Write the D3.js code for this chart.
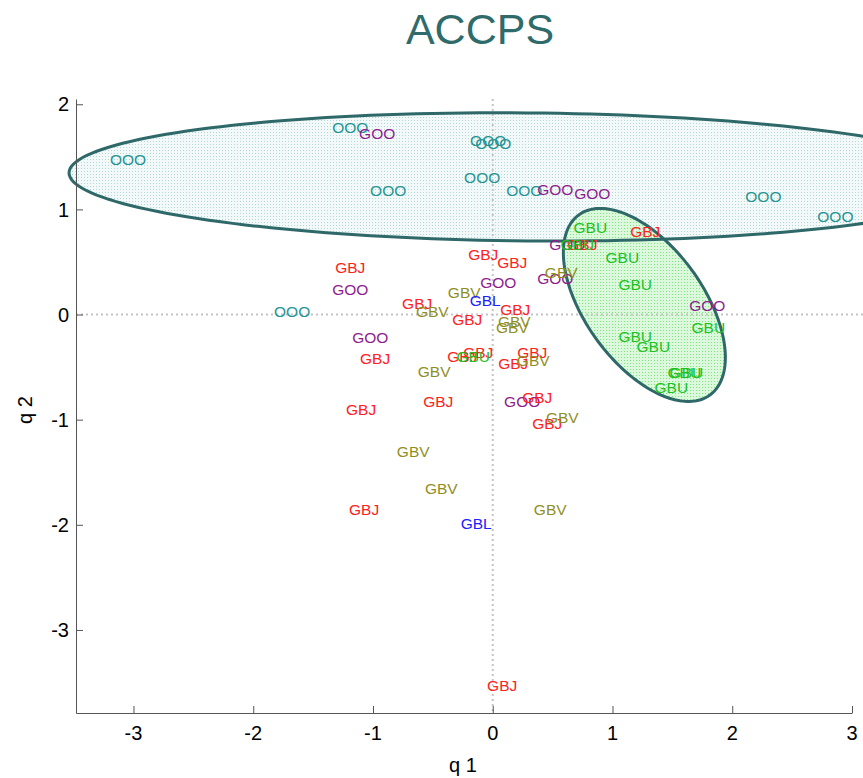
<!DOCTYPE html>
<html>
<head>
<meta charset="utf-8">
<script src="https://cdn.jsdelivr.net/npm/d3@7.9.0/dist/d3.min.js"></script>
<style>
  body { margin: 0; background: #fff; }
  text { font-family: "Liberation Sans", Arial, sans-serif; }
</style>
</head>
<body>
<div id="chart"></div>
<script>
// Biplot of the ACCPS groups, q1 vs q2
const groups = ["OOO", "GOO", "GBJ", "GBV", "GBL", "GBU"];
const groupColors = ["#1e9494", "#8e1c8e", "#ff2020", "#8f8f1f", "#2020ff", "#22c022"];

const oooX = [-3.045, -1.19, -0.873, -0.088, -0.038, 0.004, 0.263, 2.26, 2.861, -1.675];
const oooY = [1.472, 1.775, 1.185, 1.3, 1.66, 1.623, 1.185, 1.119, 0.929, 0.025];

const gooX = [-0.965, 0.522, 0.831, -1.19, 0.046, 0.522, 0.622, 1.792, -1.023, 0.246];
const gooY = [1.727, 1.186, 1.148, 0.235, 0.31, 0.348, 0.67, 0.091, -0.222, -0.831];

const gbjX = [-1.19, -0.079, 0.163, -0.631, -0.213, 0.188, 0.748, 1.274, -0.982, -0.255,
  -0.121, 0.171, 0.33, -1.099, -0.455, 0.372, 0.455, -1.074, 0.079];
const gbjY = [0.444, 0.567, 0.5, 0.11, -0.042, 0.044, 0.67, 0.786, -0.422, -0.403,
  -0.356, -0.461, -0.365, -0.898, -0.831, -0.784, -1.031, -1.85, -3.524];

const gbvX = [-0.238, -0.505, 0.18, 0.163, 0.572, -0.489, 0.338, 0.581, -0.664, -0.43, 0.48];
const gbvY = [0.215, 0.034, -0.061, -0.118, 0.396, -0.545, -0.441, -0.974, -1.298, -1.65, -1.85];

const gblX = [-0.063, -0.138];
const gblY = [0.13, -1.983];

const gbuX = [0.815, 0.706, 1.082, 1.19, 1.8, 1.19, 1.341, 1.6, 1.617, 1.491, -0.163];
const gbuY = [0.824, 0.67, 0.539, 0.291, -0.118, -0.204, -0.308, -0.546, -0.546, -0.698, -0.403];

// ellipses: center, first half-axis vector, second half-axis vector (data units)
const ellipseOOO = [0.288, 1.309, 3.826, -0.038, 0.0, 0.609];
const ellipseGBU = [1.266, 0.091, 0.547, -0.857, -0.398, -0.3295];

const xTicks = [-3, -2, -1, 0, 1, 2, 3];
const yTicks = [-3, -2, -1, 0, 1, 2];

const width = 863;
const height = 778;

const xScale = d3.scaleLinear().domain([-3.48, 3]).range([76, 852]);
const yScale = d3.scaleLinear().domain([-3.79, 2.05]).range([713, 99]);

const svg = d3.select("#chart").append("svg")
  .attr("width", width)
  .attr("height", height);

// dotted fill patterns
const defs = svg.append("defs");
function addPattern(id, base, dot) {
  const p = defs.append("pattern")
    .attr("id", id)
    .attr("width", 3).attr("height", 3)
    .attr("patternUnits", "userSpaceOnUse");
  p.append("rect").attr("width", 3).attr("height", 3).attr("fill", base)
    .attr("shape-rendering", "crispEdges");
  p.append("rect").attr("width", 1).attr("height", 1).attr("fill", dot)
    .attr("shape-rendering", "crispEdges");
}
addPattern("dotsTeal", "#f3f9f9", "#b0d8d8");
addPattern("dotsGreen", "#ddf9dd", "#7ee87e");

function ellipsePath(e) {
  const pts = d3.range(0, 2 * Math.PI, Math.PI / 90).map((t) => [
    e[0] + e[2] * Math.cos(t) + e[4] * Math.sin(t),
    e[1] + e[3] * Math.cos(t) + e[5] * Math.sin(t)
  ]);
  return d3.line()
    .x((d) => xScale(d[0]))
    .y((d) => yScale(d[1]))
    .curve(d3.curveLinearClosed)(pts);
}

svg.append("path").attr("d", ellipsePath(ellipseOOO)).attr("fill", "url(#dotsTeal)");
svg.append("path").attr("d", ellipsePath(ellipseGBU)).attr("fill", "url(#dotsGreen)");

// zero reference lines
svg.append("line")
  .attr("x1", xScale.range()[0]).attr("x2", width)
  .attr("y1", yScale(0)).attr("y2", yScale(0))
  .attr("stroke", "#c4c4c4").attr("stroke-width", 2)
  .attr("stroke-dasharray", "2,3");
svg.append("line")
  .attr("x1", xScale(0)).attr("x2", xScale(0))
  .attr("y1", yScale.range()[1]).attr("y2", yScale.range()[0])
  .attr("stroke", "#c4c4c4").attr("stroke-width", 2)
  .attr("stroke-dasharray", "2,3");

[ellipseOOO, ellipseGBU].forEach((e) => {
  svg.append("path")
    .attr("d", ellipsePath(e))
    .attr("fill", "none")
    .attr("stroke", "#2f6868")
    .attr("stroke-width", 3);
});

// point labels
const groupX = [oooX, gooX, gbjX, gbvX, gblX, gbuX];
const groupY = [oooY, gooY, gbjY, gbvY, gblY, gbuY];
const points = [];
groups.forEach((g, i) => {
  groupX[i].forEach((x, j) => points.push({ group: g, color: groupColors[i], x: x, y: groupY[i][j] }));
});

svg.append("g").selectAll("text")
  .data(points)
  .enter()
  .append("text")
  .attr("x", (d) => xScale(d.x))
  .attr("y", (d) => yScale(d.y))
  .attr("dy", "0.36em")
  .attr("text-anchor", "middle")
  .attr("font-size", 15.5)
  .attr("fill", (d) => d.color)
  .text((d) => d.group);

// axes with inward ticks
const xAxis = svg.append("g")
  .attr("transform", `translate(0,${yScale.range()[0]})`)
  .call(d3.axisTop(xScale).tickValues(xTicks).tickSize(7).tickSizeOuter(0).tickFormat(d3.format("d")));
xAxis.selectAll("text").remove();
const yAxis = svg.append("g")
  .attr("transform", `translate(${xScale.range()[0]},0)`)
  .call(d3.axisRight(yScale).tickValues(yTicks).tickSize(7).tickSizeOuter(0).tickFormat(d3.format("d")));
yAxis.selectAll("text").remove();
svg.selectAll(".domain, .tick line").attr("stroke", "#555");

svg.append("g").selectAll("text")
  .data(xTicks)
  .enter()
  .append("text")
  .attr("x", (d) => xScale(d))
  .attr("y", 740)
  .attr("text-anchor", "middle")
  .attr("font-size", 20)
  .text((d) => d);

svg.append("g").selectAll("text")
  .data(yTicks)
  .enter()
  .append("text")
  .attr("x", 69)
  .attr("y", (d) => yScale(d))
  .attr("dy", "0.36em")
  .attr("text-anchor", "end")
  .attr("font-size", 20)
  .text((d) => d);

// titles
svg.append("text")
  .attr("x", 480).attr("y", 44)
  .attr("text-anchor", "middle")
  .attr("font-size", 43)
  .attr("fill", "#2f6b6b")
  .text("ACCPS");

svg.append("text")
  .attr("x", 463).attr("y", 772)
  .attr("text-anchor", "middle")
  .attr("font-size", 20)
  .text("q 1");

svg.append("text")
  .attr("transform", "translate(32,410) rotate(-90)")
  .attr("text-anchor", "middle")
  .attr("font-size", 20)
  .text("q 2");
</script>
</body>
</html>
